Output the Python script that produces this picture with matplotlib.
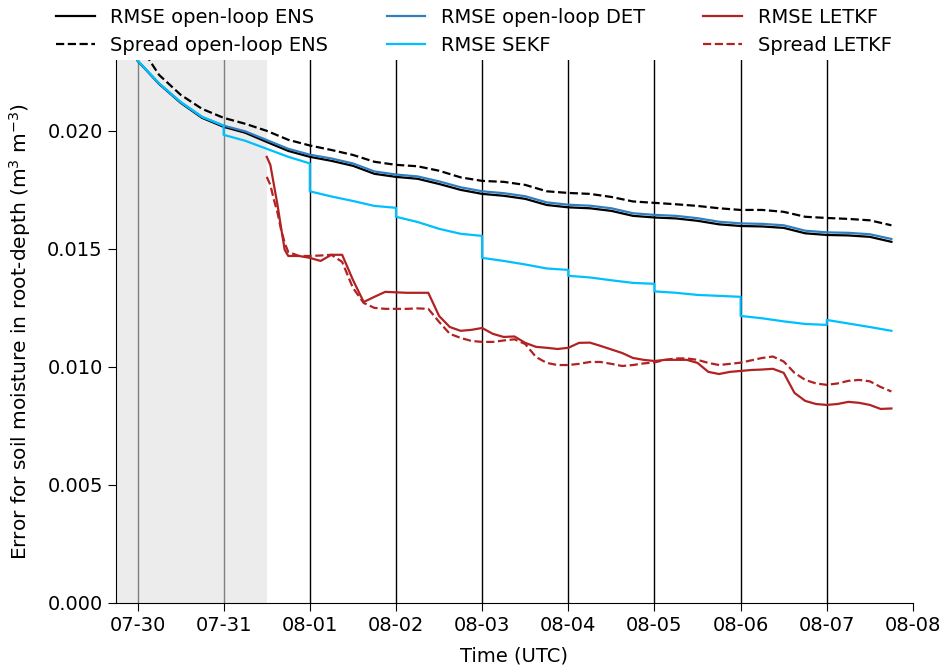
import matplotlib
matplotlib.use("Agg")
import matplotlib.pyplot as plt
import matplotlib.dates as mdates
import numpy as np
import pandas as pd

# ---------------- data (hours relative to 07-30 00:00 UTC) ----------------
base = pd.Timestamp("2023-07-30 00:00")

ol_hours = [-6, 0, 6, 12, 18, 24, 30, 36, 42, 48, 54, 60, 66, 72, 78, 84, 90, 96,
            102, 108, 114, 120, 126, 132, 138, 144, 150, 156, 162, 168, 174, 180,
            186, 192, 198, 204, 210]

rmse_ol_ens = [0.0262, 0.02297, 0.02199, 0.02119, 0.02055, 0.02017, 0.01992, 0.01953,
               0.01915, 0.01890, 0.01873, 0.01852, 0.01818, 0.01805, 0.01797, 0.01775,
               0.01750, 0.01733, 0.01725, 0.01712, 0.01686, 0.01676, 0.01672, 0.01661,
               0.01640, 0.01633, 0.01629, 0.01619, 0.01604, 0.01597, 0.01595, 0.01589,
               0.01566, 0.01559, 0.01557, 0.01551, 0.01530]

spread_ol_ens = [0.0270, 0.02377, 0.02237, 0.02153, 0.02093, 0.02055, 0.02030, 0.02000,
                 0.01962, 0.01938, 0.01919, 0.01898, 0.01869, 0.01856, 0.01850, 0.01831,
                 0.01803, 0.01788, 0.01784, 0.01771, 0.01744, 0.01737, 0.01733, 0.01720,
                 0.01701, 0.01695, 0.01689, 0.01682, 0.01672, 0.01665, 0.01665, 0.01657,
                 0.01636, 0.01631, 0.01627, 0.01621, 0.01600]

rmse_ol_det = [0.0262, 0.02298, 0.02201, 0.02122, 0.02059, 0.02022, 0.01998, 0.01961,
               0.01924, 0.01899, 0.01883, 0.01862, 0.01828, 0.01815, 0.01807, 0.01786,
               0.01761, 0.01744, 0.01736, 0.01723, 0.01697, 0.01687, 0.01683, 0.01672,
               0.01651, 0.01644, 0.01640, 0.01630, 0.01615, 0.01608, 0.01606, 0.01600,
               0.01577, 0.01570, 0.01568, 0.01562, 0.01542]

# SEKF: repeated hours mark the background -> analysis jump at 00 UTC
sekf_hours = [-6, 0, 6, 12, 18, 24, 24, 30, 36, 42, 48, 48, 54, 60, 66, 72, 72,
              78, 84, 90, 96, 96, 102, 108, 114, 120, 120, 126, 132, 138, 144, 144,
              150, 156, 162, 168, 168, 174, 180, 186, 192, 192, 198, 204, 210]
rmse_sekf = [0.0262, 0.02298, 0.02201, 0.02122, 0.02059, 0.02022, 0.01983, 0.01958,
             0.01924, 0.01890, 0.01862, 0.01744, 0.01722, 0.01703, 0.01682, 0.01674,
             0.01636, 0.01614, 0.01585, 0.01564, 0.01555, 0.01462, 0.01449, 0.01434,
             0.01417, 0.01411, 0.01386, 0.01379, 0.01367, 0.01356, 0.01352, 0.01320,
             0.01314, 0.01305, 0.01301, 0.01297, 0.01216, 0.01206, 0.01193, 0.01182,
             0.01178, 0.01199, 0.01184, 0.01169, 0.01153]

letkf_hours = [36, 37, 38, 39, 40, 41, 42, 45, 48, 51, 54, 57, 60, 63, 66, 69, 72, 75,
               78, 81, 84, 87, 90, 93, 96, 99, 102, 105, 108, 111, 114, 117, 120, 123,
               126, 129, 132, 135, 138, 141, 144, 147, 150, 153, 156, 159, 162, 165,
               168, 171, 174, 177, 180, 183, 186, 189, 192, 195, 198, 201, 204, 207, 210]

rmse_letkf = [0.01890, 0.01856, 0.01771, 0.01686, 0.01589, 0.01496, 0.01470, 0.01470,
              0.01462, 0.01449, 0.01475, 0.01475, 0.01369, 0.01275, 0.01297, 0.01318,
              0.01316, 0.01314, 0.01314, 0.01314, 0.01216, 0.01169, 0.01153, 0.01157,
              0.01165, 0.01140, 0.01127, 0.01129, 0.01102, 0.01085, 0.01081, 0.01076,
              0.01081, 0.01102, 0.01103, 0.01089, 0.01074, 0.01059, 0.01038, 0.01030,
              0.01025, 0.01030, 0.01030, 0.01030, 0.01017, 0.00979, 0.00970, 0.00979,
              0.00983, 0.00987, 0.00989, 0.00992, 0.00975, 0.00890, 0.00856, 0.00843,
              0.00839, 0.00843, 0.00852, 0.00848, 0.00839, 0.00822, 0.00824]

spread_letkf = [0.01805, 0.01771, 0.01708, 0.01653, 0.01581, 0.01525, 0.01487, 0.01470,
                0.01470, 0.01472, 0.01475, 0.01445, 0.01335, 0.01271, 0.01250, 0.01246,
                0.01246, 0.01246, 0.01248, 0.01246, 0.01191, 0.01140, 0.01123, 0.01110,
                0.01106, 0.01106, 0.01112, 0.01117, 0.01097, 0.01042, 0.01017, 0.01008,
                0.01008, 0.01013, 0.01021, 0.01021, 0.01013, 0.01004, 0.01008, 0.01015,
                0.01019, 0.01030, 0.01036, 0.01036, 0.01030, 0.01017, 0.01008, 0.01013,
                0.01018, 0.01028, 0.01038, 0.01044, 0.01023, 0.00975, 0.00945, 0.00930,
                0.00924, 0.00930, 0.00941, 0.00945, 0.00939, 0.00915, 0.00896]

day_ticks = ["2023-07-30", "2023-07-31", "2023-08-01", "2023-08-02", "2023-08-03",
             "2023-08-04", "2023-08-05", "2023-08-06", "2023-08-07", "2023-08-08"]
spinup_end = "2023-07-31 12:00"
x_start = "2023-07-29 18:00"
x_end = "2023-08-08 00:00"


def to_time(hours):
    return base + pd.to_timedelta(np.array(hours, dtype=float), unit="h")


# ---------------- figure ----------------
plt.rcParams["font.family"] = ["DejaVu Sans"]
fig = plt.figure(figsize=(9.49, 6.70), dpi=100)
ax = fig.add_axes([0.1222, 0.1, 0.8398, 0.8104])

ticks = pd.to_datetime(day_ticks)
for t in ticks[:-1]:
    ax.axvline(t, color="black", lw=1.0, zorder=1)
ax.axvspan(pd.Timestamp(x_start), pd.Timestamp(spinup_end), color=(0.87, 0.87, 0.87),
           alpha=0.575, lw=0, zorder=1.5)

lw = 1.6
ax.plot(to_time(ol_hours), rmse_ol_ens, color="black", lw=lw, zorder=3,
        label="RMSE open-loop ENS")
ax.plot(to_time(ol_hours), spread_ol_ens, color="black", lw=lw, ls="--", zorder=3,
        label="Spread open-loop ENS")
ax.plot(to_time(ol_hours), rmse_ol_det, color="#2f7fc1", lw=lw, zorder=3.5,
        label="RMSE open-loop DET")
ax.plot(to_time(sekf_hours), rmse_sekf, color="#00bfff", lw=lw, zorder=4,
        label="RMSE SEKF")
ax.plot(to_time(letkf_hours), rmse_letkf, color="#b22222", lw=lw, zorder=4,
        label="RMSE LETKF")
ax.plot(to_time(letkf_hours), spread_letkf, color="#b22222", lw=lw, ls="--", zorder=4,
        label="Spread LETKF")

ax.set_xlim(pd.Timestamp(x_start), pd.Timestamp(x_end))
ax.set_ylim(0, 0.023)
ax.set_xticks(ticks)
ax.xaxis.set_major_formatter(mdates.DateFormatter("%m-%d"))
ax.set_yticks([0.0, 0.005, 0.010, 0.015, 0.020])
ax.yaxis.set_major_formatter(matplotlib.ticker.FormatStrFormatter("%.3f"))
ax.tick_params(labelsize=14, length=6)

for s in ["top", "right"]:
    ax.spines[s].set_visible(False)

ax.set_xlabel("Time (UTC)", fontsize=14, labelpad=8)
ax.set_ylabel("Error for soil moisture in root-depth (m$^3$ m$^{-3}$)", fontsize=14.5,
              labelpad=10)

ax.legend(ncol=3, loc="lower center", bbox_to_anchor=(0.449, 0.995), frameon=False,
          fontsize=14, columnspacing=3.0, handlelength=2.0, borderaxespad=0.0,
          labelspacing=0.45)

fig.savefig("out.png", dpi=100)
